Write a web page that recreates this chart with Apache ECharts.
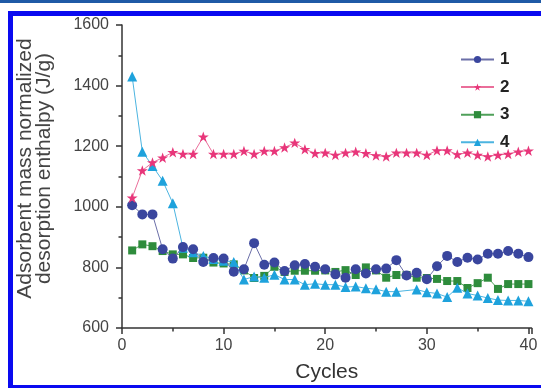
<!DOCTYPE html>
<html>
<head>
<meta charset="utf-8">
<script src="https://cdn.jsdelivr.net/npm/echarts@6/dist/echarts.min.js"></script>
<style>
  html, body { margin: 0; padding: 0; background: #fff; }
  #wrap { position: relative; width: 541px; height: 388px; overflow: hidden; }
  #topline { position: absolute; left: 0; top: 0; width: 541px; height: 3px; background: #1f5aa6; }
  #frame { position: absolute; left: 8px; top: 11px; width: 560px; height: 369px; border: 5px solid #0a0af0; pointer-events: none; }
  #chart { position: absolute; left: 0; top: 0; width: 541px; height: 388px; }
</style>
</head>
<body>
<div id="wrap">
  <div id="topline"></div>
  <div id="chart"></div>
  <div id="frame"></div>
</div>
<script>
const cycles = Array.from( { length: 40 }, ( _, i ) => i + 1 );

const sample1 = [ 1005, 975, 975, 860, 829, 867, 860, 818, 831, 829,
	786, 794, 880, 809, 816, 788, 807, 811, 802, 794,
	777, 766, 794, 780, 794, 796, 824, 773, 782, 761,
	804, 838, 818, 832, 826, 845, 845, 854, 845, 834 ];
const sample2 = [ 1030, 1120, 1146, 1162, 1180, 1174, 1174, 1231, 1174, 1174,
	1174, 1184, 1174, 1184, 1184, 1196, 1211, 1190, 1177, 1178,
	1171, 1178, 1182, 1177, 1169, 1166, 1178, 1178, 1178, 1171,
	1186, 1186, 1173, 1178, 1171, 1166, 1171, 1174, 1182, 1185 ];
const sample3 = [ 856, 876, 870, 854, 843, 843, 831, 832, 816, 813,
	810, 790, 765, 772, 802, 785, 789, 789, 789, 790,
	785, 791, 775, 800, 790, 766, 775, 775, 766, 765,
	762, 755, 755, 732, 748, 766, 729, 745, 745, 745 ];
const sample4 = [ 1430, 1182, 1135, 1086, 1012, 865, 850, 838, 828, 822,
	818, 760, 770, 766, 776, 760, 760, 743, 746, 743,
	743, 735, 737, 731, 728, 720, 720, null, 727, 718,
	714, 702, 733, 714, 707, 699, 692, 691, 691, 688 ];

const names = [ '1', '2', '3', '4' ];
const colors = [ '#3a469e', '#e8367a', '#2e8c3c', '#1ea2dc' ];
const lineColors = [ '#6b6fa8', '#ea6e9a', '#4fa05a', '#4cb4e0' ];

const starPath = 'path://M50,0 L61.8,34.5 L97.6,34.5 L68.5,55.9 L79.4,90.5 L50,69.1 L20.6,90.5 L31.5,55.9 L2.4,34.5 L38.2,34.5 Z';
const symbols = [ 'circle', starPath, 'rect', 'triangle' ];
const sizes = [ 10, 11, 8, 10 ];
const zs = [ 4, 5, 2, 3 ];

const pairs = ( values ) => values.map( ( v, i ) => [ cycles[ i ], v ] );

const chart = echarts.init( document.getElementById( 'chart' ), null, { renderer: 'canvas' } );
const font = 'Liberation Sans, Arial, sans-serif';

chart.setOption( {
	animation: false,
	textStyle: { fontFamily: font },
	grid: { left: 122, right: 9.5, top: 25, bottom: 56 },
	legend: {
		orient: 'vertical',
		left: 455,
		top: 46,
		itemWidth: 33,
		itemHeight: 9,
		itemGap: 10.6,
		data: names,
		textStyle: { fontSize: 17, fontWeight: 'bold', color: '#222', padding: [ 0, 0, 0, 1 ] }
	},
	xAxis: {
		type: 'value',
		min: 0,
		max: 40.3,
		interval: 10,
		name: 'Cycles',
		nameLocation: 'middle',
		nameGap: 34,
		nameTextStyle: { fontSize: 21, color: '#333' },
		axisLine: { lineStyle: { color: '#333', width: 1.5 } },
		axisTick: { length: 6, lineStyle: { color: '#333', width: 1.5 } },
		minorTick: { show: true, splitNumber: 2, length: 3.5, lineStyle: { color: '#333', width: 1.5 } },
		axisLabel: { fontSize: 16, color: '#444', margin: 10, showMaxLabel: false },
		splitLine: { show: false }
	},
	yAxis: {
		type: 'value',
		min: 600,
		max: 1600,
		interval: 200,
		name: 'Adsorbent mass normalized\ndesorption enthalpy (J/g)',
		nameLocation: 'middle',
		nameGap: 68,
		nameTextStyle: { fontSize: 21, color: '#444', lineHeight: 19, padding: [ 0, 0, 0, 16 ] },
		axisLine: { lineStyle: { color: '#333', width: 1.5 } },
		axisTick: { length: 6, lineStyle: { color: '#333', width: 1.5 } },
		minorTick: { show: true, splitNumber: 2, length: 3.5, lineStyle: { color: '#333', width: 1.5 } },
		axisLabel: { fontSize: 16, color: '#444', margin: 13, formatter: ( v ) => String( v ) },
		splitLine: { show: false }
	},
	series: [ sample1, sample2, sample3, sample4 ].map( ( values, i ) => ( {
		name: names[ i ],
		type: 'line',
		data: pairs( values ),
		z: zs[ i ],
		connectNulls: true,
		symbol: symbols[ i ],
		symbolSize: sizes[ i ],
		symbolKeepAspect: true,
		showAllSymbol: true,
		lineStyle: { color: lineColors[ i ], width: 1 },
		itemStyle: { color: colors[ i ] }
	} ) )
} );
</script>
</body>
</html>
